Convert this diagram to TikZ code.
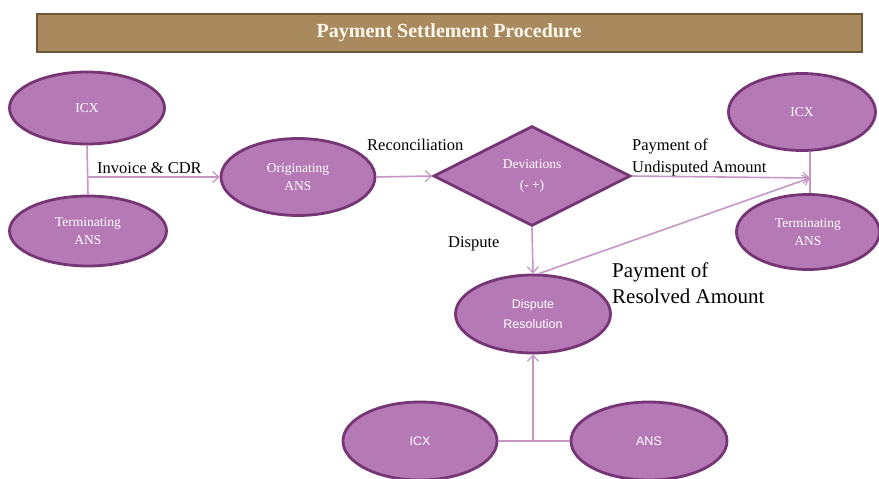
\documentclass[tikz,border=0pt]{standalone}
\usepackage{fontspec}
\setmainfont{Liberation Serif}
\setsansfont{Liberation Sans}
\usetikzlibrary{shapes.geometric,arrows.meta}
\definecolor{nodefill}{HTML}{B579B5}
\definecolor{nodeedge}{HTML}{763676}
\definecolor{linkcol}{HTML}{C697C6}
\definecolor{barfill}{HTML}{A88A5E}
\definecolor{baredge}{HTML}{6E5636}
\definecolor{titletext}{HTML}{FFF8EC}
\tikzset{
  oval/.style={ellipse, draw=nodeedge, line width=2.8pt, fill=nodefill, inner sep=0pt,
    text=white, align=center, font=\fontsize{13.5}{18}\selectfont},
  sansoval/.style={oval, font=\sffamily\fontsize{12.5}{20}\selectfont},
  decide/.style={diamond, draw=nodeedge, line width=2.8pt, fill=nodefill, inner sep=0pt,
    text=white, align=center, font=\fontsize{13.5}{21}\selectfont},
  link/.style={draw=linkcol, line width=1.6pt},
  arr/.style={link, -{Straight Barb[length=6pt,width=11pt,line width=1.2pt]}},
  lbl/.style={text=black, font=\fontsize{16.5}{22}\selectfont, inner sep=0pt, align=left},
  biglbl/.style={text=black, font=\fontsize{21}{26}\selectfont, inner sep=0pt, align=left}
}
\begin{document}
\begin{tikzpicture}[x=1pt,y=-1pt]
\useasboundingbox[fill=white] (0,0) rectangle (879,479);
% title bar
\node[draw=baredge, line width=2pt, fill=barfill, minimum width=825pt, minimum height=38pt,
  inner sep=0pt, text=titletext, font=\bfseries\fontsize{20}{22}\selectfont] (title) at (449,33)
  {Payment Settlement Procedure};
% nodes
\node[oval, minimum width=155pt, minimum height=72pt] (icxL) at (87,108) {ICX};
\node[oval, minimum width=157pt, minimum height=70pt] (termL) at (88,231) {Terminating\\ANS};
\node[oval, minimum width=154pt, minimum height=77pt] (orig) at (298,177) {Originating\\ANS};
\node[decide, minimum width=197pt, minimum height=100pt] (dev) at (532,176) {Deviations\\(- +)};
\node[oval, minimum width=147pt, minimum height=77pt] (icxR) at (802,112) {ICX};
\node[oval, minimum width=143pt, minimum height=75pt] (termR) at (808,232) {Terminating\\ANS};
\node[sansoval, minimum width=155pt, minimum height=78pt] (disp) at (533,314) {Dispute\\Resolution};
\node[sansoval, minimum width=154pt, minimum height=78pt] (icxB) at (420,441) {ICX};
\node[sansoval, minimum width=156pt, minimum height=78pt] (ansB) at (649,441) {ANS};
% junction coordinates
\coordinate (jL) at (88,177);
\coordinate (jR) at (810,178);
\coordinate (jB) at (533,442);
% connectors
\draw[link] (icxL.south) -- (termL.north);
\draw[arr] (jL) -- (orig.west);
\draw[arr] (orig.east) -- (dev.west);
\draw[link] (icxR.south -| jR) -- (termR.north -| jR);
\draw[arr] (dev.east) -- (jR);
\draw[arr] (dev.south) -- (disp.north);
\draw[arr] ([xshift=6pt]disp.north) -- (jR);
\draw[link] (icxB.east) -- (ansB.west);
\draw[arr] (jB) -- (disp.south);
% labels
\node[lbl, anchor=base west] (linv) at (97,173) {Invoice \& CDR};
\node[lbl, anchor=base west] (lrec) at (367,150) {Reconciliation};
\node[lbl, anchor=north west] (lund) at (632,139) {Payment of\\Undisputed Amount};
\node[lbl, anchor=base west] (ldis) at (448,247) {Dispute};
\node[biglbl, anchor=north west] (lres) at (612,263) {Payment of\\Resolved Amount};
\end{tikzpicture}
\end{document}
